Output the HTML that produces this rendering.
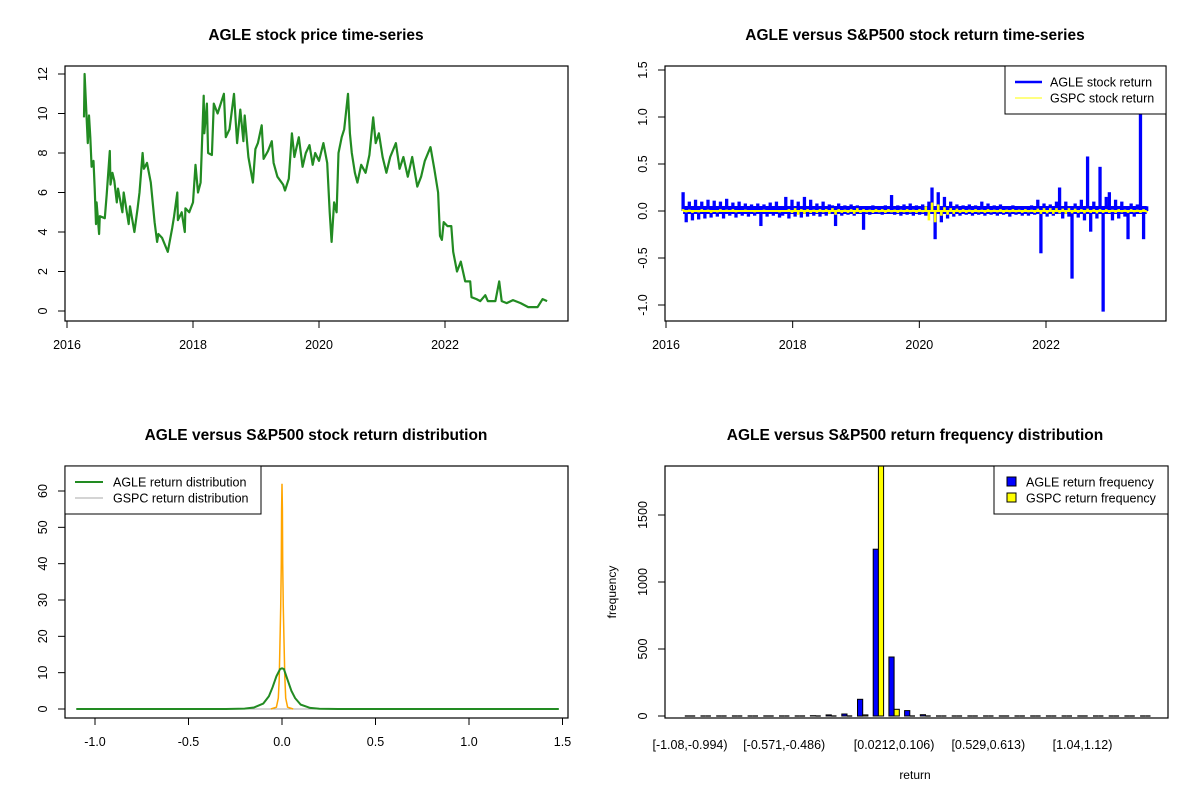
<!DOCTYPE html>
<html><head><meta charset="utf-8">
<style>
html,body{margin:0;padding:0;background:#fff;}
svg{display:block;font-family:"Liberation Sans",Arial,sans-serif;}
</style></head>
<body>
<svg id="chart" width="1200" height="800" viewBox="0 0 1200 800" xmlns="http://www.w3.org/2000/svg"></svg>
<script>
// ---------- Panel 1: AGLE price ----------
const priceYears = [2016.27,2016.28,2016.33,2016.35,2016.37,2016.39,2016.42,2016.44,2016.46,2016.47,2016.51,2016.52,2016.6,2016.63,2016.68,2016.69,2016.72,2016.75,2016.79,2016.81,2016.88,2016.9,2016.98,2017.0,2017.07,2017.12,2017.15,2017.2,2017.22,2017.27,2017.33,2017.39,2017.43,2017.45,2017.51,2017.6,2017.67,2017.7,2017.75,2017.76,2017.82,2017.87,2017.88,2017.94,2018.0,2018.04,2018.08,2018.12,2018.17,2018.18,2018.22,2018.24,2018.3,2018.33,2018.39,2018.49,2018.52,2018.58,2018.65,2018.7,2018.75,2018.8,2018.82,2018.88,2018.95,2018.99,2019.03,2019.09,2019.12,2019.19,2019.25,2019.28,2019.34,2019.43,2019.46,2019.52,2019.57,2019.61,2019.68,2019.74,2019.79,2019.85,2019.9,2019.94,2020.0,2020.07,2020.13,2020.17,2020.2,2020.24,2020.28,2020.31,2020.36,2020.4,2020.46,2020.49,2020.52,2020.57,2020.61,2020.67,2020.74,2020.8,2020.86,2020.9,2020.95,2021.01,2021.07,2021.13,2021.22,2021.28,2021.34,2021.41,2021.48,2021.56,2021.62,2021.68,2021.77,2021.83,2021.89,2021.92,2021.95,2021.98,2022.04,2022.1,2022.13,2022.19,2022.25,2022.32,2022.4,2022.42,2022.5,2022.56,2022.64,2022.68,2022.8,2022.86,2022.9,2022.98,2023.08,2023.2,2023.32,2023.47,2023.55,2023.62];
const priceValues = [9.8,12.0,8.5,9.9,8.8,7.3,7.6,6.2,4.4,5.5,3.9,4.8,4.7,5.9,8.1,6.4,7.0,6.6,5.5,6.2,5.0,6.0,4.4,5.3,4.0,5.2,6.0,8.0,7.2,7.5,6.5,4.5,3.5,3.9,3.7,3.0,4.2,4.8,6.0,4.6,5.0,4.0,5.2,5.0,5.5,7.4,6.0,6.5,10.9,9.0,10.5,8.0,7.9,10.5,10.0,11.0,8.8,9.2,11.0,8.5,10.2,8.6,9.9,7.8,6.5,8.2,8.5,9.4,7.7,8.1,8.6,7.5,6.8,6.4,6.1,6.7,9.0,7.8,8.8,7.3,8.0,8.4,7.4,8.0,7.6,8.5,7.5,5.0,3.5,5.5,5.0,8.0,8.8,9.2,11.0,9.0,8.0,7.0,6.5,7.4,7.0,7.9,9.8,8.5,9.0,7.8,7.0,7.8,8.5,7.2,7.8,6.8,7.8,6.3,6.8,7.6,8.3,7.2,6.0,3.8,3.6,4.5,4.3,4.3,3.0,2.0,2.5,1.5,1.5,0.7,0.6,0.5,0.8,0.5,0.5,1.5,0.5,0.4,0.55,0.4,0.2,0.2,0.6,0.5];
const priceYTicks = [0,2,4,6,8,10,12];
const yearTicks = [2016,2018,2020,2022];

// ---------- Panel 2: returns ----------
const retStart = 2016.27, retEnd = 2023.59;
const agleReturns = [0.2,-0.12,0.1,-0.1,0.12,-0.09,0.1,-0.08,0.12,-0.07,
0.11,-0.06,0.1,-0.08,0.13,-0.05,0.09,-0.07,0.1,-0.05,
0.08,-0.06,0.07,-0.05,0.08,-0.16,0.07,-0.06,0.09,-0.05,
0.1,-0.07,-0.05,0.15,-0.08,0.12,-0.06,0.1,-0.07,0.15,
-0.06,0.12,-0.05,0.08,-0.06,0.1,-0.05,0.07,0.06,-0.16,
0.08,-0.05,0.06,-0.04,0.07,-0.05,0.06,0.04,-0.2,0.05,
-0.04,0.06,-0.03,0.05,-0.04,0.06,-0.03,0.17,-0.04,0.06,
-0.05,0.07,-0.04,0.08,-0.05,0.06,-0.04,0.07,-0.05,0.1,
0.25,-0.3,0.2,-0.12,0.15,-0.08,0.1,-0.06,0.07,-0.05,
0.06,-0.04,0.07,-0.05,0.06,-0.04,0.1,-0.05,0.08,-0.04,
0.06,-0.05,0.07,-0.04,0.05,-0.06,0.06,-0.04,0.05,-0.05,
0.04,-0.05,0.06,-0.04,0.12,-0.45,0.08,-0.06,0.07,-0.05,
0.1,0.25,-0.08,0.1,-0.06,-0.72,0.08,-0.07,0.12,-0.1,
0.58,-0.22,0.1,-0.08,0.47,-1.07,0.15,0.2,-0.1,0.12,
-0.08,0.1,-0.06,-0.3,0.08,-0.06,0.07,1.05,-0.3,0.05];
const gspcReturns = [0.02,-0.015,0.015,-0.02,0.01,-0.015,0.02,-0.01,0.015,-0.02,
0.01,-0.015,0.02,-0.01,0.015,-0.01,0.02,-0.015,0.01,-0.01,
0.015,-0.01,0.01,-0.015,0.01,-0.01,0.015,-0.01,0.01,-0.01,
0.01,-0.015,0.01,-0.01,0.02,-0.02,0.03,-0.04,0.02,-0.03,
0.02,-0.02,0.015,-0.02,0.02,-0.015,0.02,-0.03,0.03,-0.04,
0.02,-0.02,0.015,-0.02,0.02,-0.03,0.03,-0.02,0.02,-0.015,
0.015,-0.02,0.02,-0.015,0.02,-0.02,0.02,-0.015,0.015,-0.02,
0.015,-0.015,0.02,-0.015,0.015,-0.02,0.02,-0.015,0.05,-0.1,
0.09,-0.12,0.07,-0.05,0.04,-0.04,0.03,-0.03,0.025,-0.02,
0.02,-0.02,0.015,-0.02,0.02,-0.015,0.015,-0.02,0.02,-0.015,
0.015,-0.015,0.02,-0.02,0.015,-0.015,0.02,-0.015,0.015,-0.02,
0.02,-0.015,0.015,-0.02,0.025,-0.03,0.03,-0.025,0.03,-0.03,
0.03,-0.025,0.025,-0.03,0.03,-0.025,0.025,-0.02,0.02,-0.025,
0.025,-0.02,0.02,-0.025,0.02,-0.02,0.02,-0.02,0.015,-0.02,
0.02,-0.015,0.015,-0.02,0.02,-0.015,0.015,-0.02,0.02,-0.015];
const retYTicks = [-1.0,-0.5,0.0,0.5,1.0,1.5];

// ---------- Panel 3: densities ----------
const densX = [-1.1,-0.3,-0.2,-0.15,-0.1,-0.07,-0.05,-0.03,-0.01,0,0.01,0.03,0.05,0.07,0.1,0.15,0.2,0.3,1.48];
const agleDensity = [0,0,0.1,0.4,1.5,3.5,6,9,11,11.2,11,8,5,3,1.2,0.3,0.05,0,0];
const gspcX = [-0.06,-0.03,-0.02,-0.015,-0.01,-0.007,-0.004,-0.002,0,0.002,0.004,0.007,0.01,0.015,0.02,0.03,0.06];
const gspcDensity = [0,0.5,3,8,20,28,40,55,62,55,40,28,20,9,3,0.5,0];
const densXTicks = [-1.0,-0.5,0.0,0.5,1.0,1.5];
const densYTicks = [0,10,20,30,40,50,60];

// ---------- Panel 4: histogram ----------
const binLabels = ["[-1.08,-0.994)","[-0.571,-0.486)","[0.0212,0.106)","[0.529,0.613)","[1.04,1.12)"];
const binLabelIndex = [0,6,13,19,25];
const agleFreq = [0,0,0,0,0,0,0,0,2,8,15,125,1245,440,40,10,0,0,0,0,0,0,0,0,0,0,0,0,0,0];
const gspcFreq = [0,0,0,0,0,0,0,0,0,0,0,8,1900,50,0,0,0,0,0,0,0,0,0,0,0,0,0,0,0,0];
const freqYTicks = [0,500,1000,1500];

const NS = "http://www.w3.org/2000/svg";
const svg = document.getElementById("chart");
function mk(tag, attrs, parent, text){
  const e = document.createElementNS(NS, tag);
  for (const k in attrs) e.setAttribute(k, attrs[k]);
  if (text !== undefined) e.textContent = text;
  (parent || svg).appendChild(e);
  return e;
}
function lin(d0,d1,r0,r1){ return v => r0 + (v-d0)*(r1-r0)/(d1-d0); }
function fmt1(v){ return v.toFixed(1); }

function frame(g, x0,y0,x1,y1){
  const r = mk("rect",{x:x0,y:y0,width:x1-x0,height:y1-y0,fill:"none",stroke:"#000","stroke-width":1.2},g);
  
  
}
function xAxis(g, ticks, sx, yb, labelFn, name){
  const ax = mk("g",{},g);
  
  
  mk("line",{x1:sx(ticks[0]),x2:sx(ticks[ticks.length-1]),y1:yb,y2:yb,stroke:"#000","stroke-width":1},ax);
  ticks.forEach(t=>{
    mk("line",{x1:sx(t),x2:sx(t),y1:yb,y2:yb+7,stroke:"#000","stroke-width":1},ax);
    mk("text",{x:sx(t),y:yb+28,"text-anchor":"middle","font-size":12.5,fill:"#000"},ax,labelFn(t));
  });
}
function yAxis(g, ticks, sy, xl, labelFn, name){
  const ax = mk("g",{},g);
  
  
  mk("line",{x1:xl,x2:xl,y1:sy(ticks[0]),y2:sy(ticks[ticks.length-1]),stroke:"#000","stroke-width":1},ax);
  ticks.forEach(t=>{
    mk("line",{x1:xl-7,x2:xl,y1:sy(t),y2:sy(t),stroke:"#000","stroke-width":1},ax);
    const tx = xl-18, ty = sy(t);
    mk("text",{x:tx,y:ty,"text-anchor":"middle","font-size":12.5,fill:"#000",transform:`rotate(-90 ${tx} ${ty})`},ax,labelFn(t));
  });
}
function title(g, x, y, s){
  const t = mk("text",{x:x,y:y,"text-anchor":"middle","font-size":15.5,"font-weight":"bold",fill:"#000"},g,s);
  
  
}

// ===== Panel 1 =====
{
  const g = mk("g",{});
  
  
  const sx = lin(2016,2022,67,445), sy = lin(0,12,311,74);
  title(g, 316, 40, "AGLE stock price time-series");
  const pts = priceYears.map((y,i)=>sx(y).toFixed(1)+","+sy(priceValues[i]).toFixed(1)).join(" ");
  const pl = mk("polyline",{points:pts,fill:"none",stroke:"#228B22","stroke-width":2.2,"stroke-linejoin":"round"},g);
  
  
  frame(g,65,66,568,321);
  xAxis(g, yearTicks, sx, 321, t=>String(t), 'x-axis');
  yAxis(g, priceYTicks, sy, 65, t=>String(t), 'y-axis');
}

// ===== Panel 2 =====
{
  const g = mk("g",{});
  
  
  const sx = lin(2016,2022,666,1046), sy = lin(0,1,211,117);
  title(g, 915, 40, "AGLE versus S&P500 stock return time-series");
  const n = agleReturns.length;
  const yr = i => retStart + i*(retEnd-retStart)/(n-1);
  const ga = mk("g",{stroke:"#0000FF","stroke-width":3.3},g);
  
  
  agleReturns.forEach((v,i)=>{
    const x = sx(yr(i));
    const l = mk("line",{x1:x,x2:x,y1:sy(0),y2:sy(v)},ga);
    
    
  });
  const bl = mk("line",{x1:sx(retStart),x2:sx(retEnd),y1:sy(0.01),y2:sy(0.01),stroke:"#0000FF","stroke-width":8},g);
  
  
  const m = gspcReturns.length;
  const yr2 = i => retStart + i*(retEnd-retStart)/(m-1);
  const gb = mk("g",{stroke:"#FFFF00","stroke-width":2.6},g);
  
  
  const zl = mk("line",{x1:sx(retStart),x2:sx(retEnd),y1:sy(0),y2:sy(0),stroke:"#FFFF00","stroke-width":2},gb);
  
  
  gspcReturns.forEach((v,i)=>{
    const x = sx(yr2(i));
    const l = mk("line",{x1:x,x2:x,y1:sy(0),y2:sy(v)},gb);
    
    
  });
  frame(g,665,66,1166,321);
  xAxis(g, yearTicks, sx, 321, t=>String(t), 'x-axis');
  yAxis(g, retYTicks, sy, 665, fmt1, 'y-axis');
  const lg = mk("g",{},g);
  
  
  mk("rect",{x:1005,y:66,width:161,height:48,fill:"#fff",stroke:"#000","stroke-width":1},lg);
  mk("line",{x1:1015,x2:1042,y1:82,y2:82,stroke:"#0000FF","stroke-width":2.4},lg);
  mk("text",{x:1050,y:86.5,"font-size":12.5},lg,"AGLE stock return");
  mk("line",{x1:1015,x2:1042,y1:98,y2:98,stroke:"#FFFF00","stroke-width":1},lg);
  mk("text",{x:1050,y:102.5,"font-size":12.5},lg,"GSPC stock return");
}

// ===== Panel 3 =====
{
  const g = mk("g",{});
  
  
  const sx = lin(0,1,282,469), sy = lin(0,60,709,491);
  title(g, 316, 440, "AGLE versus S&P500 stock return distribution");
  const gb = mk("line",{x1:sx(-1.1),x2:sx(1.48),y1:sy(0),y2:sy(0),stroke:"#aaaaaa","stroke-width":1},g);
  
  
  const o = gspcX.map((x,i)=>sx(x).toFixed(1)+","+sy(gspcDensity[i]).toFixed(1)).join(" ");
  const po = mk("polyline",{points:o,fill:"none",stroke:"#FFA500","stroke-width":1.5},g);
  
  
  const a = densX.map((x,i)=>sx(x).toFixed(1)+","+sy(agleDensity[i]).toFixed(1)).join(" ");
  const pa = mk("polyline",{points:a,fill:"none",stroke:"#228B22","stroke-width":2},g);
  
  
  frame(g,65,466,568,718);
  xAxis(g, densXTicks, sx, 718, fmt1, 'x-axis');
  yAxis(g, densYTicks, sy, 65, t=>String(t), 'y-axis');
  const lg = mk("g",{},g);
  
  
  mk("rect",{x:65,y:466,width:196,height:48,fill:"#fff",stroke:"#000","stroke-width":1},lg);
  mk("line",{x1:75,x2:103,y1:482,y2:482,stroke:"#228B22","stroke-width":2},lg);
  mk("text",{x:113,y:486.5,"font-size":12.5},lg,"AGLE return distribution");
  mk("line",{x1:75,x2:103,y1:498,y2:498,stroke:"#aaaaaa","stroke-width":1},lg);
  mk("text",{x:113,y:502.5,"font-size":12.5},lg,"GSPC return distribution");
}

// ===== Panel 4 =====
{
  const g = mk("g",{});
  
  
  const sy = lin(0,1500,716,515);
  const gx = i => 690 + i*15.7;
  const bw = 5.2;
  title(g, 915, 440, "AGLE versus S&P500 return frequency distribution");
  const clip = mk("clipPath",{id:"hclip"},g);
  mk("rect",{x:665,y:466,width:503,height:252},clip);
  const bars = mk("g",{"clip-path":"url(#hclip)"},g);
  agleFreq.forEach((v,i)=>{
    const y = sy(v);
    if (v > 0) {
      const r = mk("rect",{x:(gx(i)-bw).toFixed(1),y:y.toFixed(1),width:bw,height:(sy(0)-y).toFixed(1),fill:"#0000FF",stroke:"#000","stroke-width":1},bars);
      
      
    } else {
      const r = mk("line",{x1:(gx(i)-bw).toFixed(1),x2:gx(i).toFixed(1),y1:sy(0),y2:sy(0),stroke:"#000","stroke-width":1.3},bars);
      
      
    }
  });
  gspcFreq.forEach((v,i)=>{
    const y = sy(v);
    if (v > 0) {
      const r = mk("rect",{x:gx(i).toFixed(1),y:y.toFixed(1),width:bw,height:(sy(0)-y).toFixed(1),fill:"#FFFF00",stroke:"#000","stroke-width":1},bars);
      
      
    } else {
      const r = mk("line",{x1:gx(i).toFixed(1),x2:(gx(i)+bw).toFixed(1),y1:sy(0),y2:sy(0),stroke:"#000","stroke-width":1.3},bars);
      
      
    }
  });
  frame(g,665,466,1168,718);
  yAxis(g, freqYTicks, sy, 665, t=>String(t), 'y-axis');
  binLabelIndex.forEach((bi,k)=>{
    const t = mk("text",{x:gx(bi),y:749,"text-anchor":"middle","font-size":12.5},g,binLabels[k]);
    
    
  });
  const xt = mk("text",{x:915,y:779,"text-anchor":"middle","font-size":12},g,"return");
  
  
  const yt = mk("text",{x:616,y:592,"text-anchor":"middle","font-size":12,transform:"rotate(-90 616 592)"},g,"frequency");
  
  
  const lg = mk("g",{},g);
  
  
  mk("rect",{x:994,y:466,width:174,height:48,fill:"#fff",stroke:"#000","stroke-width":1},lg);
  mk("rect",{x:1007,y:477,width:9,height:9,fill:"#0000FF",stroke:"#000","stroke-width":1},lg);
  mk("text",{x:1026,y:486.5,"font-size":12.5},lg,"AGLE return frequency");
  mk("rect",{x:1007,y:493,width:9,height:9,fill:"#FFFF00",stroke:"#000","stroke-width":1},lg);
  mk("text",{x:1026,y:502.5,"font-size":12.5},lg,"GSPC return frequency");
}
</script>
</body></html>
